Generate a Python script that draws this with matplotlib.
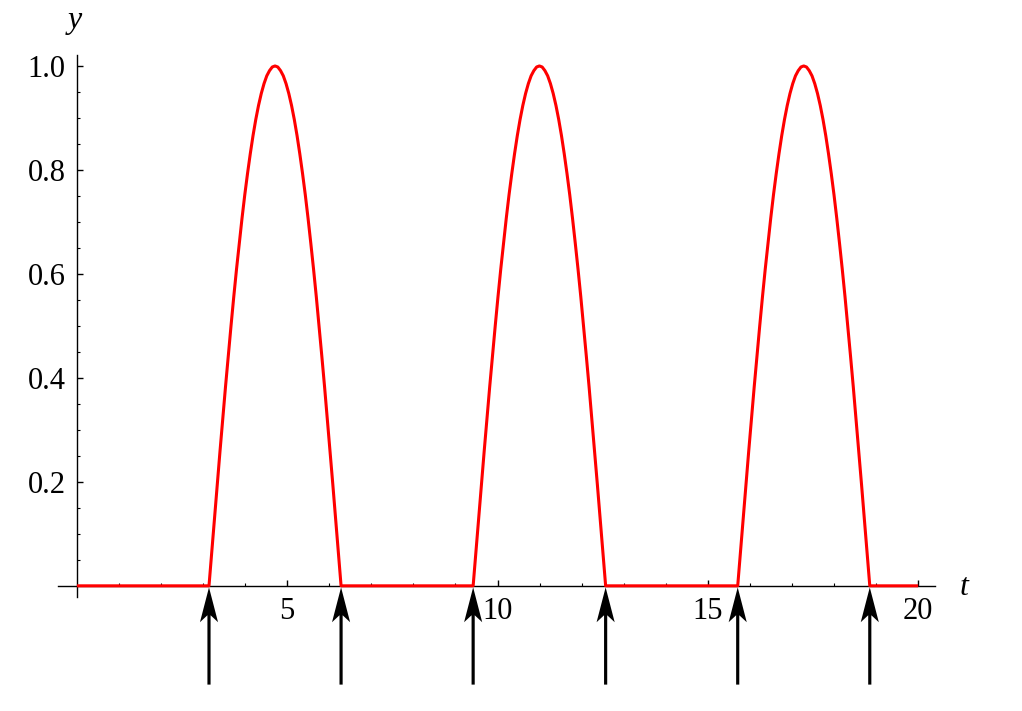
import matplotlib.pyplot as plt
import numpy as np

# pulse start/end times (where the arrows are)
pulse_start = [3.14, 9.42, 15.71]
pulse_end = [6.28, 12.57, 18.85]
arrow_t = [3.14, 6.28, 9.42, 12.57, 15.71, 18.85]

# one arch at 49 evenly spaced points across the pulse
arch_half = [0.0, 0.065, 0.131, 0.195, 0.259, 0.321, 0.383, 0.442, 0.5, 0.556,
             0.609, 0.659, 0.707, 0.752, 0.793, 0.831, 0.866, 0.897, 0.924,
             0.947, 0.966, 0.981, 0.991, 0.998, 1.0]
arch_y = arch_half + arch_half[-2::-1]

t_min, t_max = 0.0, 20.0
xticks_major = [5, 10, 15, 20]
yticks_major = [0.2, 0.4, 0.6, 0.8, 1.0]

# build the curve: flat at zero between the arches
frac = np.linspace(0, 1, len(arch_y))
t_pts = [t_min]
y_pts = [0.0]
for s, e in zip(pulse_start, pulse_end):
    t_pts += list(s + frac * (e - s))
    y_pts += arch_y
t_pts.append(t_max)
y_pts.append(0.0)

plt.rcParams['font.family'] = ['Liberation Serif', 'DejaVu Serif']

fig = plt.figure(figsize=(10.22, 7.11), dpi=100)
ax = fig.add_axes([0.05675, 0.0225, 0.8581, 0.9001])
ax.set_xlim(-0.45, 20.4)
ax.set_ylim(-0.21, 1.021)

ax.plot(t_pts, y_pts, color='red', lw=2.2, zorder=3, solid_capstyle='butt')

# mathematica style axes crossing at origin
ax.spines['left'].set_position(('data', 0))
ax.spines['bottom'].set_position(('data', 0))
ax.spines['right'].set_visible(False)
ax.spines['top'].set_visible(False)
ax.spines['left'].set_bounds(-0.021, 1.021)
for sp in ['left', 'bottom']:
    ax.spines[sp].set_linewidth(1.0)
    ax.spines[sp].set_zorder(2)

ax.set_xticks(xticks_major)
ax.set_xticklabels([str(v) for v in xticks_major])
ax.set_xticks(np.arange(1, 21, 1), minor=True)
ax.set_yticks(yticks_major)
ax.set_yticklabels(['%.1f' % v for v in yticks_major])
ax.set_yticks(np.arange(0.05, 1.01, 0.05), minor=True)
ax.tick_params(axis='both', which='major', direction='in', length=4.5, width=1,
               labelsize=22, pad=8)
ax.tick_params(axis='both', which='minor', direction='in', length=2.5, width=0.8)

# arrows below the axis
for a in arrow_t:
    ax.arrow(a, -0.19, 0, 0.187, width=0.075, head_width=0.43, head_length=0.067,
             length_includes_head=True, color='black', lw=0, overhang=0.2,
             clip_on=False, zorder=4)

ax.text(21.08, -0.004, 't', fontsize=23, style='italic', ha='center', va='center')
ax.text(-0.05, 1.088, 'y', fontsize=23, style='italic', ha='center', va='center',
        clip_on=False)

fig.savefig('out.png', dpi=100)
